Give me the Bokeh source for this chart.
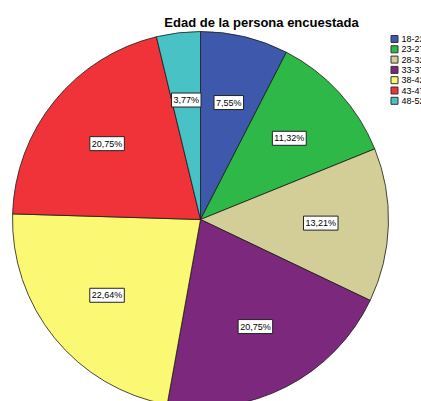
import numpy as np
from bokeh.plotting import figure
from bokeh.models import Range1d
from bokeh.core.properties import value
from bokeh.embed import file_html
from bokeh.resources import INLINE

title = "Edad de la persona encuestada"
categories = ["18-22", "23-27", "28-32", "33-37", "38-42", "43-47", "48-52"]
percents = [7.55, 11.32, 13.21, 20.75, 22.64, 20.75, 3.77]
colors = ["#3E58AC", "#2EB848", "#D3CE97", "#7C287D", "#FBF873", "#EF3338", "#48C2C5"]

W, H = 421, 401
CX, CY = 200, 219  # pie centre on the canvas (px from top-left)
R = 188  # pie radius in px (data units are px)

p = figure(width=W, height=H, output_backend="svg", toolbar_location=None,
           x_range=Range1d(-CX, W - CX), y_range=Range1d(CY - H, CY),
           min_border=0, outline_line_color=None)
p.axis.visible = False
p.grid.visible = False
p.background_fill_color = "white"
p.border_fill_color = "white"

frac = np.array(percents) / sum(percents)
cum = np.concatenate([[0], np.cumsum(frac)])
start = np.pi / 2 - 2 * np.pi * cum[:-1]
end = np.pi / 2 - 2 * np.pi * cum[1:]

p.wedge(x=0, y=0, radius=R, start_angle=start, end_angle=end, direction="clock",
        fill_color=colors, line_color="#1a1a1a", line_width=0.8)

mid = (start + end) / 2
lr = 0.64 * R
labels = [f"{v:.2f}%".replace(".", ",") for v in percents]
p.text(x=lr * np.cos(mid), y=lr * np.sin(mid), text=labels,
       text_font=value("Liberation Sans"), text_font_size="9px",
       text_align="center", text_baseline="middle", text_color="black",
       background_fill_color="white", border_line_color="#222222",
       border_line_width=1, padding=2)

# title
p.text(x=[61], y=[197], text=[title], text_font=value("Liberation Sans"),
       text_font_size="13px", text_font_style="bold", text_align="center",
       text_baseline="middle", text_color="black")

# legend
idx = np.arange(len(categories))
ly = 180.5 - 10.3 * idx
p.rect(x=194, y=ly, width=7, height=7, fill_color=colors, line_color="#333333", line_width=1)
p.text(x=201, y=ly, text=categories, text_font=value("Liberation Sans"),
       text_font_size="9px", text_align="left", text_baseline="middle", text_color="black")

open("out.html", "w").write(file_html(p, INLINE))
